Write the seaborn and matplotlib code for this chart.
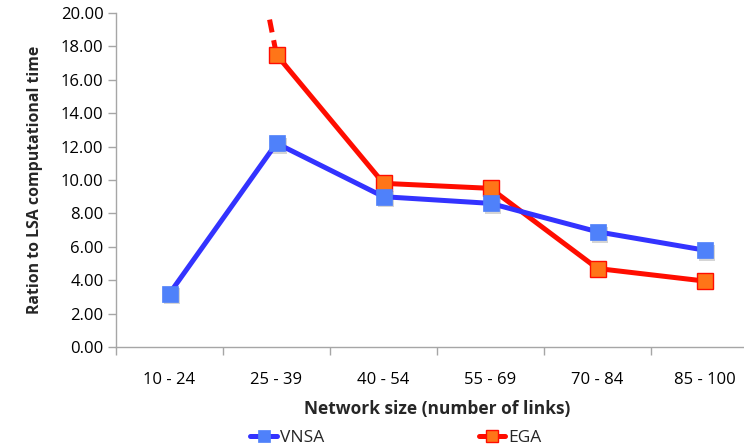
import numpy as np
import pandas as pd
import matplotlib
matplotlib.use("Agg")
import matplotlib.pyplot as plt
import matplotlib.transforms as mtransforms
from matplotlib.ticker import FormatStrFormatter
import seaborn as sns

# Network size classes and computational-time ratios (relative to LSA)
categories = ["10 - 24", "25 - 39", "40 - 54", "55 - 69", "70 - 84", "85 - 100"]
vnsa = [3.2, 12.2, 9.0, 8.6, 6.9, 5.8]
ega = [50.0, 17.5, 9.8, 9.5, 4.7, 3.95]

sns.set_theme(style="white")
plt.rcParams["font.family"] = ["Open Sans", "DejaVu Sans"]

df = pd.DataFrame({
    "x": list(range(len(categories))) * 2,
    "ratio": vnsa + ega,
    "method": ["VNSA"] * len(categories) + ["EGA"] * len(categories),
})
vn = df[df.method == "VNSA"]
eg = df[df.method == "EGA"]

fig = plt.figure(figsize=(7.44, 4.45), dpi=100)
ax = fig.add_axes([116 / 744, 1 - 347 / 445, 642 / 744, 334 / 445])

blue_line, blue_fill = "#3333FF", "#4F81FA"
red_line, orange_fill = "#FF0D00", "#FF7518"

# EGA: off-scale first segment dashed, the rest solid
sns.lineplot(data=eg.iloc[0:2], x="x", y="ratio", ax=ax, color=red_line,
             linewidth=3.6, dashes=False, linestyle=(0, (2.6, 1.6)),
             legend=False, zorder=2)
sns.lineplot(data=eg.iloc[1:], x="x", y="ratio", ax=ax, color=red_line,
             linewidth=3.6, marker="s", markersize=11,
             markerfacecolor=orange_fill, markeredgecolor=red_line,
             markeredgewidth=1.0, legend=False, zorder=3, label="EGA")

# soft drop shadow under the VNSA markers
shift = mtransforms.ScaledTranslation(1.5 / 72, -2 / 72, fig.dpi_scale_trans)
ax.plot(vn.x, vn.ratio, linestyle="none", marker="s", markersize=11,
        color="#888888", alpha=0.35, markeredgewidth=0,
        transform=ax.transData + shift, zorder=3.5)
sns.lineplot(data=vn, x="x", y="ratio", ax=ax, color=blue_line,
             linewidth=3.6, marker="s", markersize=11,
             markerfacecolor=blue_fill, markeredgecolor=blue_fill,
             markeredgewidth=0.5, legend=False, zorder=4, label="VNSA")

ax.set_ylim(0, 20)
ax.set_xlim(-0.5, len(categories) - 0.5)
ax.set_yticks(np.arange(0, 20.01, 2))
ax.yaxis.set_major_formatter(FormatStrFormatter("%.2f"))

# Category labels centred, tick marks at the category boundaries
ax.set_xticks(range(len(categories)))
ax.set_xticklabels(categories)
ax.set_xticks(np.arange(-0.5, len(categories), 1), minor=True)
ax.tick_params(axis="x", which="major", length=0, pad=18, labelsize=12,
               colors="#000000")
ax.tick_params(axis="x", which="minor", length=6, width=1, color="#A6A6A6",
               direction="out", bottom=True)
ax.tick_params(axis="y", length=6, width=1, color="#A6A6A6", direction="out",
               left=True, pad=3, labelsize=12, labelcolor="#000000")

for side in ("top", "right"):
    ax.spines[side].set_visible(False)
for side in ("left", "bottom"):
    ax.spines[side].set_color("#A6A6A6")
    ax.spines[side].set_linewidth(1)

ax.set_xlabel("Network size (number of links)", fontsize=12.5,
              fontweight="bold", labelpad=8.5)
ax.set_ylabel("Ration to LSA computational time", fontsize=11.4,
              fontweight="bold", labelpad=13)

handles, labels = ax.get_legend_handles_labels()
order = [labels.index("VNSA"), labels.index("EGA")]
fig.legend([handles[i] for i in order], [labels[i] for i in order],
           loc="center", bbox_to_anchor=(0.532, 0.015), ncol=2,
           frameon=False, fontsize=12.5, handlelength=1.55, handletextpad=0.15,
           columnspacing=8.9, markerscale=0.75)

fig.savefig("out.png", dpi=100)
